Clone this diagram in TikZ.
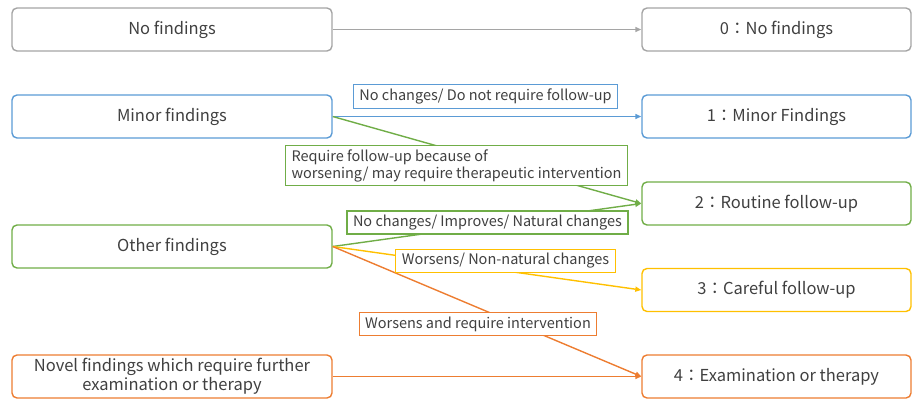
\documentclass[tikz,border=0pt]{standalone}
\usepackage{fontspec}
\setmainfont{Noto Sans CJK JP}
\usetikzlibrary{arrows.meta}
\definecolor{cgray}{HTML}{A5A5A5}
\definecolor{cblue}{HTML}{5B9BD5}
\definecolor{cgreen}{HTML}{70AD47}
\definecolor{cyellow}{HTML}{FFC000}
\definecolor{corange}{HTML}{ED7D31}
\definecolor{ink}{HTML}{404040}

\begin{document}
\begin{tikzpicture}[x=1pt, y=-1pt,
	finding/.style={draw=#1, line width=1.4pt, rounded corners=5pt, minimum height=43pt, align=center, text=ink, font=\fontsize{16.5}{19}\selectfont},
	tag/.style={draw=#1, line width=1.3pt, fill=white, inner xsep=6pt, inner ysep=4pt, align=left, text=ink, font=\fontsize{14.5}{17}\selectfont},
	link/.style={draw=#1, line width=1.4pt, -{Triangle[length=6pt,width=5pt]}}]
\useasboundingbox (0,0) rectangle (914,402);

% left column
\foreach \id/\y/\col/\txt in {
		nofind/29.5/cgray/No findings,
		minor/116.5/cblue/Minor findings,
		other/246.5/cgreen/Other findings}
	\node [finding=\col, minimum width=320pt] (\id) at (172,\y) {\txt};
\node [finding=corange, minimum width=320pt] (novel) at (172,376.5) {Novel findings which require further\\examination or therapy};

% right column
\foreach \id/\y/\col/\txt in {
		zero/29.5/cgray/0：No findings,
		one/116.5/cblue/1：Minor Findings,
		two/203.5/cgreen/2：Routine follow-up,
		three/290/cyellow/3：Careful follow-up,
		four/376.5/corange/4：Examination or therapy}
	\node [finding=\col, minimum width=269pt] (\id) at (776.5,\y) {\txt};

\foreach \a/\b/\col in {
		nofind/zero/cgray,
		minor/one/cblue,
		minor/two/cgreen,
		other/two/cgreen,
		other/three/cyellow,
		other/four/corange,
		novel/four/corange}
	\draw [link=\col] (\a.east) -- (\b.west);

\node [tag=cblue] (nochange) at (485.5,96.5) {No changes/ Do not require follow-up};
\node [tag=cgreen] (worsening) at (456.5,165.5) {Require follow-up because of\\worsening/ may require therapeutic intervention};
\node [tag=cgreen] (improves) at (487.5,222.5) {No changes/ Improves/ Natural changes};
\node [tag=cyellow] (nonnatural) at (505.5,261) {Worsens/ Non-natural changes};
\node [tag=corange] (intervene) at (478,324) {Worsens and require intervention};

\end{tikzpicture}
\end{document}
